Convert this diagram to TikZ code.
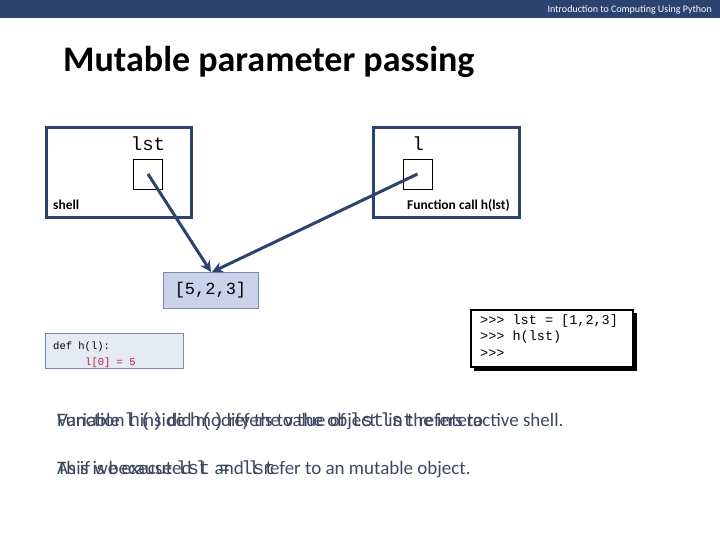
\documentclass[tikz,border=0pt]{standalone}
\usepackage{fontspec}
\setmainfont{Carlito}
\setmonofont{Liberation Mono}
\usetikzlibrary{arrows.meta}
\definecolor{barblue}{HTML}{2C4370}
\definecolor{frameblue}{HTML}{2E4270}
\definecolor{objfill}{HTML}{C8D3EA}
\definecolor{objedge}{HTML}{7A8BA8}
\definecolor{deffill}{HTML}{E6EAF4}
\definecolor{txtgray}{HTML}{3C4860}
\definecolor{codered}{HTML}{B0203A}
\tikzset{
  frame/.style={draw=frameblue, line width=3pt},
  cell/.style={draw=black, line width=0.8pt, minimum width=29pt, minimum height=30pt, inner sep=0pt},
  ref/.style={draw=frameblue, line width=3pt, -{Stealth[length=11pt,width=11pt]}},
  lbl/.style={font=\fontsize{13.5}{15}\selectfont\bfseries, text=black, inner sep=0pt},
  varname/.style={font=\fontsize{19}{21}\selectfont\ttfamily, inner sep=0pt},
  body/.style={font=\fontsize{19}{22}\selectfont, text=txtgray, inner sep=0pt, anchor=base west},
  defcode/.style={font=\fontsize{10.5}{12}\selectfont\ttfamily, inner sep=0pt, anchor=base west},
  shellcode/.style={font=\fontsize{13.5}{15}\selectfont\ttfamily, inner sep=0pt, anchor=base west},
}
\begin{document}
\begin{tikzpicture}[x=1pt,y=-1pt]
\useasboundingbox (0,0) rectangle (720,540);
\fill[white] (0,0) rectangle (720,540);
% header
\fill[barblue] (0,0) rectangle (720,18.5);
\node[anchor=east, text=white, font=\fontsize{10}{11}\selectfont, inner sep=0pt] (hdr) at (712,9.5) {Introduction to Computing Using Python};
\node[anchor=base west, font=\fontsize{36}{40}\selectfont\bfseries, inner sep=0pt] (title) at (63,72) {Mutable parameter passing};
% frames
\draw[frame] (46,128) rectangle (191,218);
\draw[frame] (373,128) rectangle (519,218);
\node[cell] (lstcell) at (148,174) {};
\node[cell] (lcell) at (417.5,174) {};
\node[varname] (lstname) at (148,144) {lst};
\node[varname] (lname) at (418,144) {l};
\node[lbl, anchor=base west] (shell) at (53,210) {shell};
\node[lbl, anchor=base east] (fcall) at (510,210) {Function call h(lst)};
% object
\node[draw=objedge, fill=objfill, line width=1pt, minimum width=95pt, minimum height=36pt, font=\fontsize{17}{20}\selectfont\ttfamily, inner sep=0pt] (obj) at (210.5,290) {[5,2,3]};
\coordinate (tip1) at (211,272);
\coordinate (tip2) at (212,272);
\draw[ref] (lstcell.center) -- (tip1);
\draw[ref] (lcell.center) -- (tip2);
% def box
\node[draw=objedge, fill=deffill, line width=0.8pt, minimum width=138pt, minimum height=35pt, inner sep=0pt] (defbox) at (114,350.5) {};
\node[defcode] (def1) at (53,349) {def h(l):};
\node[defcode, text=codered] (def2) at (85,365) {l[0] = 5};
% shell box
\fill[black] (474,313) rectangle (637,371);
\draw[black, line width=2pt, fill=white] (471,310) rectangle (633,367);
\node[shellcode] (s1) at (480,324) {>{}>{}> lst = [1,2,3]};
\node[shellcode] (s2) at (480,340.5) {>{}>{}> h(lst)};
\node[shellcode] (s3) at (480,357) {>{}>{}>};
% bottom texts (overlaid, as in the reference)
\node[body] (t1a) at (57,426) {Function \texttt{h()} did modify the value of \texttt{lst} in the interactive shell.};
\node[body] (t1b) at (57,426) {Variable \texttt{l} inside \texttt{h()} refers to the object \texttt{lst} refers to};
\node[body] (t2a) at (57,474) {This is because \texttt{lst} and \texttt{l} refer to an mutable object.};
\node[body] (t2b) at (57,474) {As if we executed \texttt{l = lst}};
\end{tikzpicture}
\end{document}
